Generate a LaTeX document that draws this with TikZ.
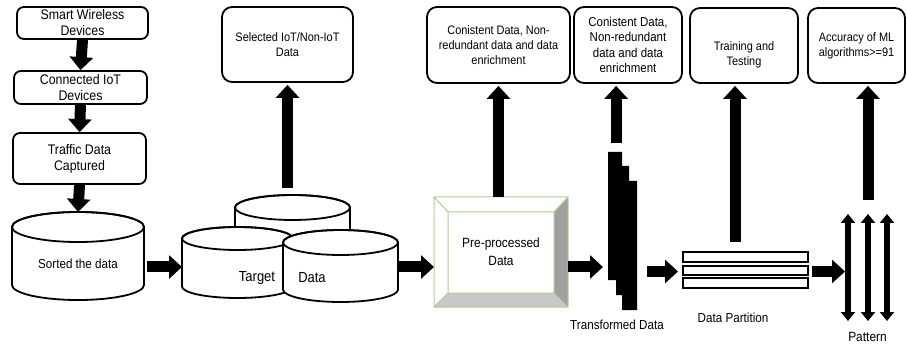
\documentclass[tikz,border=0pt]{standalone}
\usepackage{fontspec}
\setmainfont{Liberation Sans}[FakeStretch=0.89]
\usetikzlibrary{arrows.meta,calc}
\definecolor{bevgreen}{RGB}{169,209,142}
\definecolor{bevdark}{RGB}{160,160,160}
\definecolor{bevlight}{RGB}{200,200,200}
% drum: centre x, top-ellipse centre y, bottom-arc centre y, x radius, y radius
\newcommand\drum[5]{%
  \filldraw[drumline,fill=white] (#1-#4,#2) -- (#1-#4,#3)
    arc[start angle=180,end angle=360,x radius=#4 pt,y radius=#5 pt] -- (#1+#4,#2)
    arc[start angle=0,end angle=180,x radius=#4 pt,y radius=#5 pt] -- cycle;
  \draw[drumline] (#1,#2) ellipse[x radius=#4 pt,y radius=#5 pt];}
\begin{document}
\begin{tikzpicture}[x=1pt,y=-1pt,
  box/.style={draw,line width=1.8pt,rounded corners=7pt,align=center,inner sep=0pt},
  topbox/.style={box,rounded corners=10pt},
  blk/.style={line width=11pt,-{Triangle[length=13pt,width=23pt]}},
  dbl/.style={line width=5.5pt,{Triangle[length=9pt,width=14pt]}-{Triangle[length=9pt,width=14pt]}},
  ghost/.style={inner sep=0pt,outer sep=0pt},
  drumline/.style={line width=1.8pt},
  lbl/.style={inner sep=0pt,align=center},
  fa/.style={font=\fontsize{13.9}{16}\selectfont},
  fb/.style={font=\fontsize{12.3}{15}\selectfont},
  fc/.style={font=\fontsize{12.9}{15.5}\selectfont},
  fd/.style={font=\fontsize{13.4}{18}\selectfont},
  fe/.style={font=\fontsize{13.1}{15}\selectfont}]
\useasboundingbox (0,0) rectangle (907,347);

% ---- left column
\node[box,fa,minimum width=131pt,minimum height=32pt] (swd) at (82.5,23) {Smart Wireless\\Devices};
\node[box,fa,minimum width=133pt,minimum height=33pt] (cid) at (80.5,87.5) {Connected IoT\\Devices};
\node[box,fa,minimum width=133pt,minimum height=51pt] (tdc) at (79.5,158.5) {Traffic Data\\Captured};

% ---- sorted data drum
\drum{78}{227}{285}{66}{15}
\node[ghost,minimum width=132pt,minimum height=88pt] (sorted) at (78,256) {};
\node[lbl,fe] (sortedlbl) at (78,264) {Sorted the data};

% ---- target data drums
\drum{292.5}{207.5}{270}{57.5}{12.5}
\node[ghost,minimum width=115pt,minimum height=87pt] (cylB) at (292.5,238.5) {};
\drum{237.5}{238.5}{286.5}{55.5}{11.5}
\node[ghost,minimum width=111pt,minimum height=71pt] (cylL) at (237.5,262.5) {};
\drum{340.5}{242.5}{289.5}{57.5}{12.5}
\node[ghost,minimum width=115pt,minimum height=72pt] (cylR) at (340.5,266) {};
\node[lbl,font=\fontsize{14.6}{16}\selectfont] (tgtlbl) at (257,278) {Target};
\node[lbl,font=\fontsize{14.6}{16}\selectfont] (datlbl) at (312,278) {Data};

% ---- bevelled pre-processing block
\fill[white] (434,197) rectangle (568,307);
\fill[bevdark] (568,197) -- (568,307) -- (554,293) -- (554,212) -- cycle;
\fill[bevlight] (434,307) -- (568,307) -- (554,293) -- (448,293) -- cycle;
\draw[bevgreen,line width=1pt] (434,197) rectangle (568,307) (448,212) rectangle (554,293)
  (434,197) -- (448,212) (568,197) -- (554,212) (434,307) -- (448,293) (568,307) -- (554,293);
\node[ghost,minimum width=134pt,minimum height=110pt] (prep) at (501,252) {};
\node[lbl,fd] (preplbl) at (501,252) {Pre-processed\\Data};

% ---- transformed data staircase
\fill (608,152) -- (622,152) -- (622,166) -- (629,166) -- (629,181) -- (637,181) -- (637,310)
  -- (622,310) -- (622,295) -- (616,295) -- (616,280) -- (608,280) -- cycle;
\node[ghost,minimum width=29pt,minimum height=158pt] (trans) at (622.5,231) {};
\node[lbl,fe] (translbl) at (617,325) {Transformed Data};

% ---- data partition bars
\draw[line width=1.6pt] (683,252) rectangle (808,262);
\draw[line width=2.2pt] (683,266) rectangle (808,275);
\draw[line width=1.6pt] (683,278) rectangle (808,288);
\node[ghost,minimum width=125pt,minimum height=36pt] (part) at (745.5,270) {};
\node[lbl,fe] (partlbl) at (733,318) {Data Partition};

% ---- pattern arrows
\draw[dbl] (848,214) -- (848,321);
\draw[dbl] (868,214) -- (868,321);
\draw[dbl] (887,214) -- (887,321);
\node[ghost,minimum width=46pt,minimum height=107pt] (pat) at (868,267.5) {};
\node[lbl,fd] (patlbl) at (867.5,337) {Pattern};

% ---- result boxes along the top
\node[topbox,fb,minimum width=131pt,minimum height=75pt] (sel) at (287.5,44.5) {Selected IoT/Non-IoT\\Data};
\node[topbox,fb,minimum width=143pt,minimum height=76pt] (con1) at (498.5,45) {Conistent Data, Non-\\redundant data and data\\enrichment};
\node[topbox,fc,minimum width=108pt,minimum height=76pt] (con2) at (628,45) {Conistent Data,\\Non-redundant\\data and data\\enrichment};
\node[topbox,minimum width=108pt,minimum height=75pt] (train) at (744,45.5) {};
\node[lbl,fb] (trainlbl) at (744,54.5) {Training and\\Testing};
\node[topbox,fb,minimum width=97pt,minimum height=75pt] (acc) at (856.5,45.5) {Accuracy of ML\\algorithms>=91};

% ---- flow arrows
\coordinate (row) at (0,267);
\coordinate (row2) at (0,271.5);
\draw[blk] (swd.south) -- (cid.north);
\draw[blk] (cid.south) -- (tdc.north);
\draw[blk] (tdc.south) -- (sorted.north);
\draw[blk,shorten <=3pt] (sorted.east |- row) -- (cylL.west |- row);
\draw[blk] (cylR.east |- row) -- (prep.west |- row);
\draw[blk,shorten >=5pt] (prep.east |- row) -- (trans.west |- row);
\draw[blk,shorten <=10pt,shorten >=5pt] (trans.east |- row2) -- (part.west |- row2);
\draw[blk,shorten <=4pt] (part.east |- row2) -- (pat.west |- row2);

% ---- upward arrows to the result boxes
\coordinate (transtop) at ($(trans.north west)!0.28!(trans.north east)$);
\coordinate (trainfoot) at ([xshift=-9pt]train.south);
\draw[blk,shorten <=7pt,shorten >=2pt] (sel.south |- cylB.north) -- (sel.south);
\draw[blk,shorten >=2pt] (con1.south |- prep.north) -- (con1.south);
\draw[blk,shorten <=9pt,shorten >=2pt] (transtop) -- (transtop |- con2.south);
\draw[blk,shorten <=10pt,shorten >=2pt] (trainfoot |- part.north) -- (trainfoot);
\draw[blk,shorten <=14pt,shorten >=2pt] (pat.north) -- (pat.north |- acc.south);
\end{tikzpicture}
\end{document}
